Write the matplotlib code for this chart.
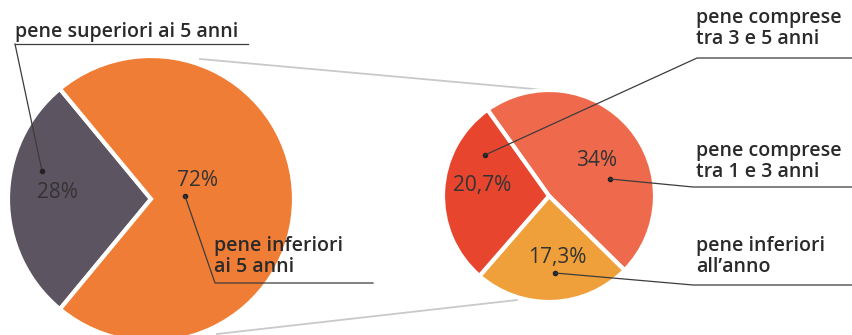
import matplotlib
matplotlib.use("Agg")
import matplotlib.pyplot as plt

# main split of the sentences
main_labels = ["pene superiori ai 5 anni", "pene inferiori\nai 5 anni"]
main_values = [28, 72]
main_colors = ["#5d5462", "#f07d36"]

# detail of the 72% (sentences up to 5 years)
sub_labels = ["pene comprese\ntra 1 e 3 anni", "pene inferiori\nall\u2019anno", "pene comprese\ntra 3 e 5 anni"]
sub_values = [34, 17.3, 20.7]
sub_colors = ["#ef6a4c", "#f0a03a", "#e8452f"]

H = 335


def pct(v):
    s = f"{v:g}".replace(".", ",")
    return s + "%"


def py(y):
    # pixel row -> data y (y axis points up)
    return H - y


plt.rcParams["font.family"] = ["Open Sans", "DejaVu Sans"]
fig = plt.figure(figsize=(8.52, 3.35), dpi=100)
ax = fig.add_axes([0, 0, 1, 1])

wedge_kw = dict(edgecolor="white", linewidth=3)
ax.pie(main_values, colors=main_colors, startangle=129.6, counterclock=True,
       center=(151, py(199)), radius=143, wedgeprops=wedge_kw, frame=True)
ax.pie(sub_values, colors=sub_colors, startangle=125.5, counterclock=False,
       center=(549, py(196)), radius=106, wedgeprops=wedge_kw, frame=True)

ax.set_xlim(0, 852)
ax.set_ylim(0, H)
ax.set_aspect("equal")
ax.axis("off")

# connector lines between the two pies
grey = "#c9c9c9"
ax.plot([200, 545], [py(59), py(90)], color=grey, lw=1.3, zorder=0)
ax.plot([217, 517], [py(334), py(300)], color=grey, lw=1.3, zorder=0)

txt = "#2a2a2a"
line = "#3c3c3c"
lab_kw = dict(fontsize=14, color=txt, fontweight="semibold", linespacing=1.05)
pct_kw = dict(fontsize=15, color="#333333", ha="center", va="center")

# left pie annotations
ax.text(15, py(37), main_labels[0], va="baseline", **lab_kw)
ax.plot([15, 248], [py(44), py(44)], color=line, lw=0.9)
ax.plot([15, 42], [py(44), py(171)], color=line, lw=0.9)
ax.plot(42, py(171), "o", color="#222222", ms=3)
ax.text(57, py(192), pct(main_values[0]), **pct_kw)

ax.text(197, py(181), pct(main_values[1]), **pct_kw)
ax.plot(185, py(196), "o", color="#222222", ms=3)
ax.plot([185, 215, 373], [py(196), py(283), py(283)], color=line, lw=0.9)
ax.text(214, py(236), main_labels[1], va="top", **lab_kw)

# right pie annotations
dots = [(610, 179), (555, 273), (485, 155)]
pct_pos = [(597, 160), (557, 258), (482, 186)]
elbows = [(693, 187), (693, 285), (697, 58)]
label_top = [141, 236, 8]
for lab, v, d, p, e, t in zip(sub_labels, sub_values, dots, pct_pos, elbows, label_top):
    ax.text(p[0], py(p[1]), pct(v), **pct_kw)
    ax.plot(d[0], py(d[1]), "o", color="#222222", ms=3)
    ax.plot([d[0], e[0], 852], [py(d[1]), py(e[1]), py(e[1])], color=line, lw=0.9)
    ax.text(696, py(t), lab, va="top", **lab_kw)

fig.savefig("out.png", dpi=100, facecolor="white")
